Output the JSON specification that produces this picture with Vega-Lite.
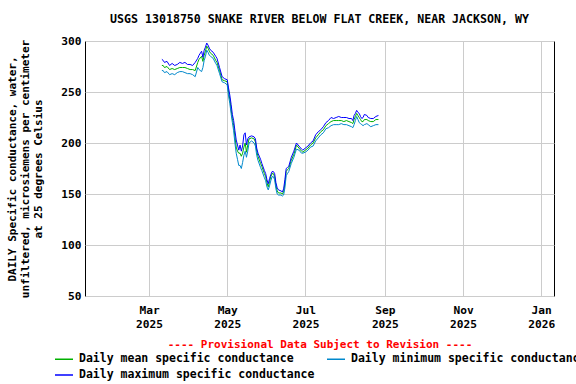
{
  "$schema": "https://vega.github.io/schema/vega-lite/v6.json",
  "autosize": {"type": "none"},
  "width": 469,
  "height": 255,
  "padding": {"left": 85, "top": 41, "right": 22, "bottom": 88},
  "background": "white",
  "title": {"text": "USGS 13018750 SNAKE RIVER BELOW FLAT CREEK, NEAR JACKSON, WY", "fontSize": 11.6, "fontWeight": "bold", "font": "DejaVu Sans Mono", "anchor": "middle", "offset": 9, "color": "black"},
  "data": {"values": [
    {"date":"2025-03-11","max":282,"mean":276,"min":271},
    {"date":"2025-03-12","max":281,"mean":276,"min":271},
    {"date":"2025-03-13","max":279,"mean":274,"min":269},
    {"date":"2025-03-15","max":280,"mean":275,"min":270},
    {"date":"2025-03-17","max":276,"mean":272,"min":267},
    {"date":"2025-03-19","max":278,"mean":273,"min":268},
    {"date":"2025-03-21","max":276,"mean":272,"min":267},
    {"date":"2025-03-23","max":277,"mean":273,"min":269},
    {"date":"2025-03-25","max":279,"mean":274,"min":270},
    {"date":"2025-03-27","max":278,"mean":274,"min":270},
    {"date":"2025-03-29","max":279,"mean":274,"min":269},
    {"date":"2025-03-31","max":277,"mean":273,"min":268},
    {"date":"2025-04-02","max":277,"mean":272,"min":268},
    {"date":"2025-04-04","max":276,"mean":272,"min":267},
    {"date":"2025-04-06","max":279,"mean":271,"min":265},
    {"date":"2025-04-08","max":283,"mean":279,"min":274},
    {"date":"2025-04-09","max":286,"mean":282,"min":272},
    {"date":"2025-04-11","max":290,"mean":285,"min":270},
    {"date":"2025-04-12","max":284,"mean":280,"min":274},
    {"date":"2025-04-13","max":291,"mean":286,"min":281},
    {"date":"2025-04-14","max":294,"mean":290,"min":285},
    {"date":"2025-04-15","max":298,"mean":295,"min":291},
    {"date":"2025-04-16","max":296,"mean":293,"min":289},
    {"date":"2025-04-17","max":293,"mean":290,"min":286},
    {"date":"2025-04-18","max":291,"mean":288,"min":285},
    {"date":"2025-04-20","max":289,"mean":286,"min":283},
    {"date":"2025-04-22","max":285,"mean":281,"min":278},
    {"date":"2025-04-23","max":283,"mean":279,"min":276},
    {"date":"2025-04-25","max":274,"mean":271,"min":268},
    {"date":"2025-04-27","max":265,"mean":262,"min":260},
    {"date":"2025-04-29","max":263,"mean":261,"min":259},
    {"date":"2025-05-01","max":262,"mean":260,"min":257},
    {"date":"2025-05-02","max":254,"mean":250,"min":246},
    {"date":"2025-05-03","max":247,"mean":243,"min":239},
    {"date":"2025-05-04","max":238,"mean":233,"min":229},
    {"date":"2025-05-05","max":228,"mean":224,"min":220},
    {"date":"2025-05-06","max":222,"mean":217,"min":212},
    {"date":"2025-05-07","max":212,"mean":206,"min":200},
    {"date":"2025-05-08","max":203,"mean":196,"min":190},
    {"date":"2025-05-09","max":198,"mean":192,"min":184},
    {"date":"2025-05-10","max":193,"mean":190,"min":178},
    {"date":"2025-05-11","max":198,"mean":190,"min":178},
    {"date":"2025-05-12","max":192,"mean":187,"min":175},
    {"date":"2025-05-13","max":197,"mean":190,"min":181},
    {"date":"2025-05-14","max":208,"mean":196,"min":188},
    {"date":"2025-05-15","max":210,"mean":200,"min":192},
    {"date":"2025-05-16","max":198,"mean":191,"min":186},
    {"date":"2025-05-17","max":204,"mean":198,"min":192},
    {"date":"2025-05-18","max":206,"mean":204,"min":200},
    {"date":"2025-05-20","max":207,"mean":205,"min":202},
    {"date":"2025-05-22","max":206,"mean":204,"min":200},
    {"date":"2025-05-23","max":204,"mean":201,"min":197},
    {"date":"2025-05-24","max":195,"mean":192,"min":188},
    {"date":"2025-05-25","max":190,"mean":187,"min":183},
    {"date":"2025-05-27","max":184,"mean":180,"min":176},
    {"date":"2025-05-28","max":180,"mean":177,"min":173},
    {"date":"2025-05-30","max":173,"mean":170,"min":166},
    {"date":"2025-05-31","max":170,"mean":167,"min":163},
    {"date":"2025-06-01","max":164,"mean":161,"min":157},
    {"date":"2025-06-02","max":160,"mean":157,"min":154},
    {"date":"2025-06-03","max":165,"mean":162,"min":158},
    {"date":"2025-06-04","max":169,"mean":167,"min":163},
    {"date":"2025-06-05","max":172,"mean":170,"min":167},
    {"date":"2025-06-06","max":172,"mean":170,"min":167},
    {"date":"2025-06-07","max":170,"mean":167,"min":164},
    {"date":"2025-06-08","max":161,"mean":158,"min":155},
    {"date":"2025-06-09","max":156,"mean":153,"min":150},
    {"date":"2025-06-10","max":154,"mean":151,"min":149},
    {"date":"2025-06-12","max":153,"mean":151,"min":149},
    {"date":"2025-06-13","max":152,"mean":150,"min":148},
    {"date":"2025-06-14","max":155,"mean":152,"min":149},
    {"date":"2025-06-15","max":164,"mean":160,"min":156},
    {"date":"2025-06-16","max":175,"mean":172,"min":168},
    {"date":"2025-06-17","max":176,"mean":174,"min":170},
    {"date":"2025-06-18","max":177,"mean":175,"min":172},
    {"date":"2025-06-20","max":186,"mean":183,"min":180},
    {"date":"2025-06-22","max":192,"mean":189,"min":186},
    {"date":"2025-06-23","max":196,"mean":193,"min":190},
    {"date":"2025-06-24","max":200,"mean":198,"min":194},
    {"date":"2025-06-26","max":197,"mean":195,"min":193},
    {"date":"2025-06-28","max":194,"mean":192,"min":190},
    {"date":"2025-06-29","max":193,"mean":191,"min":190},
    {"date":"2025-07-01","max":195,"mean":193,"min":191},
    {"date":"2025-07-03","max":197,"mean":195,"min":193},
    {"date":"2025-07-05","max":200,"mean":198,"min":196},
    {"date":"2025-07-07","max":202,"mean":200,"min":197},
    {"date":"2025-07-09","max":208,"mean":205,"min":202},
    {"date":"2025-07-11","max":211,"mean":208,"min":205},
    {"date":"2025-07-13","max":213,"mean":211,"min":208},
    {"date":"2025-07-15","max":216,"mean":213,"min":210},
    {"date":"2025-07-17","max":220,"mean":217,"min":214},
    {"date":"2025-07-19","max":222,"mean":219,"min":215},
    {"date":"2025-07-21","max":225,"mean":221,"min":217},
    {"date":"2025-07-23","max":224,"mean":222,"min":218},
    {"date":"2025-07-25","max":225,"mean":222,"min":218},
    {"date":"2025-07-27","max":226,"mean":222,"min":218},
    {"date":"2025-07-29","max":225,"mean":222,"min":219},
    {"date":"2025-07-31","max":225,"mean":221,"min":218},
    {"date":"2025-08-02","max":225,"mean":222,"min":218},
    {"date":"2025-08-04","max":224,"mean":221,"min":217},
    {"date":"2025-08-06","max":224,"mean":220,"min":216},
    {"date":"2025-08-07","max":222,"mean":219,"min":215},
    {"date":"2025-08-08","max":227,"mean":223,"min":218},
    {"date":"2025-08-09","max":229,"mean":226,"min":222},
    {"date":"2025-08-10","max":232,"mean":229,"min":226},
    {"date":"2025-08-11","max":230,"mean":227,"min":223},
    {"date":"2025-08-12","max":229,"mean":225,"min":220},
    {"date":"2025-08-13","max":226,"mean":223,"min":219},
    {"date":"2025-08-14","max":224,"mean":221,"min":218},
    {"date":"2025-08-15","max":225,"mean":221,"min":217},
    {"date":"2025-08-16","max":228,"mean":223,"min":218},
    {"date":"2025-08-18","max":227,"mean":223,"min":219},
    {"date":"2025-08-19","max":225,"mean":222,"min":218},
    {"date":"2025-08-21","max":224,"mean":221,"min":216},
    {"date":"2025-08-23","max":224,"mean":221,"min":217},
    {"date":"2025-08-25","max":226,"mean":223,"min":218},
    {"date":"2025-08-27","max":227,"mean":223,"min":218}
  ]},
  "transform": [
    {"fold": ["mean", "min", "max"], "as": ["series", "value"]}
  ],
  "mark": {"type": "line", "strokeWidth": 1, "interpolate": "linear"},
  "encoding": {
    "x": {
      "field": "date", "type": "temporal",
      "scale": {"domain": [{"year": 2025, "month": 1, "date": 10}, {"year": 2026, "month": 1, "date": 11}]},
      "axis": {
        "values": [
          {"year": 2025, "month": 3, "date": 1},
          {"year": 2025, "month": 5, "date": 1},
          {"year": 2025, "month": 7, "date": 1},
          {"year": 2025, "month": 9, "date": 1},
          {"year": 2025, "month": 11, "date": 1},
          {"year": 2026, "month": 1, "date": 1}
        ],
        "labelExpr": "[timeFormat(datum.value, '%b'), timeFormat(datum.value, '%Y')]",
        "labelLineHeight": 14,
        "labelPadding": 8,
        "labelFlush": false,
        "title": "---- Provisional Data Subject to Revision ----",
        "titleColor": "#ff0000",
        "titlePadding": 9
      }
    },
    "y": {
      "field": "value", "type": "quantitative",
      "scale": {"domain": [50, 300], "nice": false, "zero": false},
      "axis": {
        "values": [50, 100, 150, 200, 250, 300],
        "title": ["DAILY Specific conductance, water,", "unfiltered, microsiemens per centimeter", "at 25 degrees Celsius"],
        "titleLineHeight": 13,
        "titlePadding": 17,
        "labelPadding": 4
      }
    },
    "color": {
      "field": "series", "type": "nominal",
      "scale": {"domain": ["mean", "max", "min"], "range": ["#00b000", "#0000ff", "#0088cc"]},
      "legend": {
        "title": null,
        "orient": "none",
        "legendX": -31,
        "legendY": 308,
        "columns": 2,
        "columnPadding": 9,
        "rowPadding": 0,
        "symbolType": "stroke",
        "symbolSize": 324,
        "symbolStrokeWidth": 1.5,
        "labelOffset": 5,
        "labelExpr": "datum.label == 'mean' ? 'Daily mean specific conductance' : datum.label == 'min' ? 'Daily minimum specific conductance' : 'Daily maximum specific conductance'",
        "labelLimit": 400
      }
    },
    "order": {"field": "series", "sort": "descending"}
  },
  "config": {
    "font": "DejaVu Sans Mono",
    "view": {"stroke": "black", "strokeWidth": 1},
    "axis": {
      "domain": false,
      "ticks": false,
      "grid": true,
      "gridColor": "#cccccc",
      "gridWidth": 1,
      "labelFont": "DejaVu Sans Mono",
      "labelFontSize": 11.2,
      "labelFontWeight": "bold",
      "labelColor": "black",
      "titleFont": "DejaVu Sans Mono",
      "titleFontSize": 11,
      "titleFontWeight": "bold",
      "titleColor": "black"
    },
    "legend": {
      "labelFont": "DejaVu Sans Mono",
      "labelFontSize": 11.5,
      "labelFontWeight": "bold",
      "labelColor": "black"
    }
  }
}
